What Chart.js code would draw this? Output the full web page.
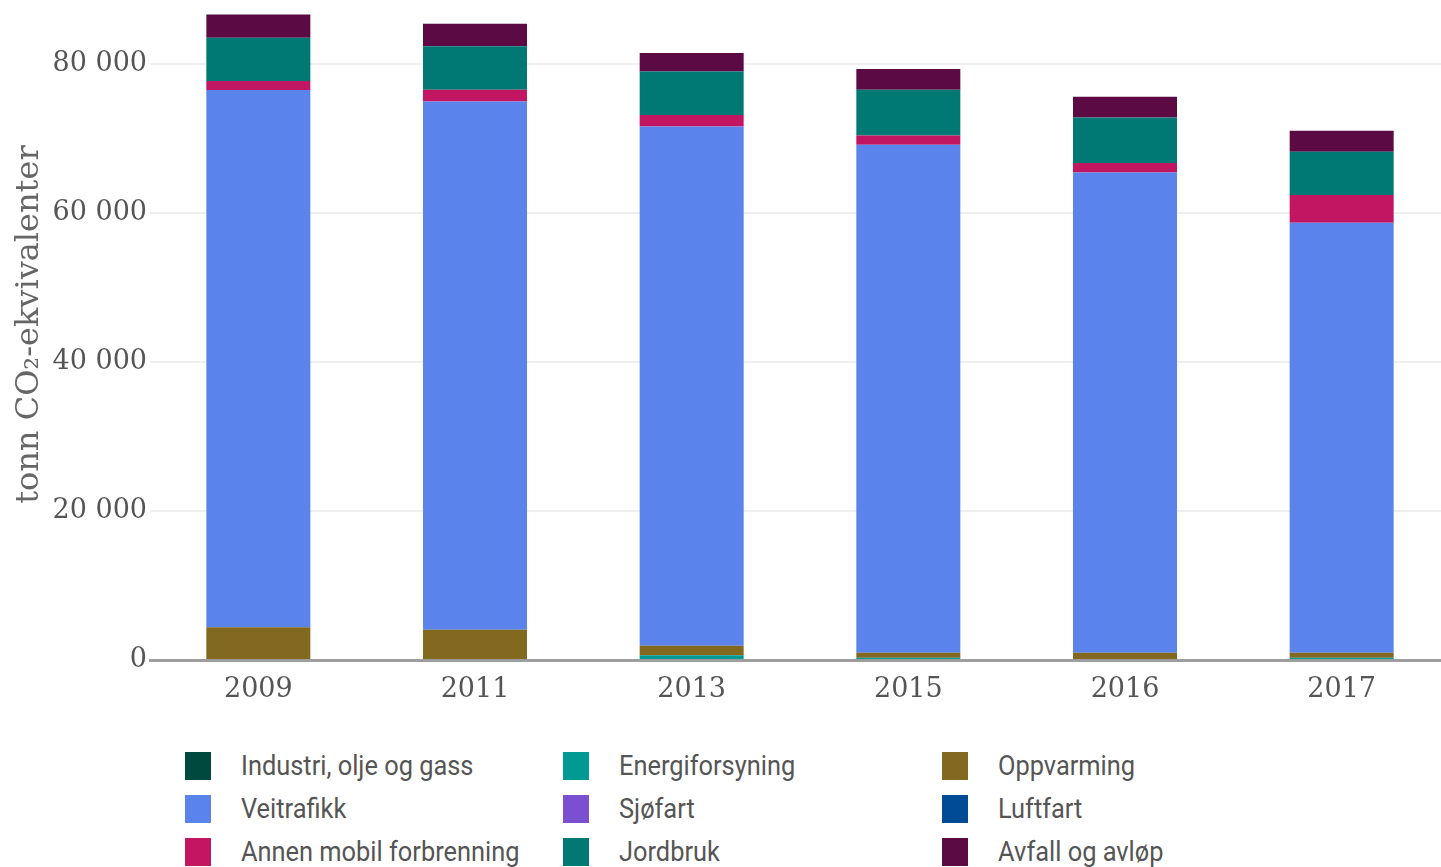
<!DOCTYPE html>
<html>
<head>
<meta charset="utf-8">
<script src="https://cdn.jsdelivr.net/npm/chart.js@4/dist/chart.umd.min.js"></script>
<style>
  html, body { margin: 0; padding: 0; background: #fff; overflow: hidden; width: 1441px; height: 867px; }
  .chartBox { position: absolute; left: 0; top: -30px; width: 1450px; height: 754px; }
  #legend { position: absolute; left: 185px; top: 752px; display: grid;
            grid-template-columns: 378px 379px 300px; row-gap: 15px; }
  .item { display: flex; align-items: center; height: 28px;
          font-family: Roboto, sans-serif; font-size: 27px; color: #555; white-space: nowrap; }
  .item span.txt { display: inline-block; transform: scaleX(0.94); transform-origin: left center; }
  .sw { width: 26px; height: 28px; margin-right: 30px; flex: none; }
</style>
</head>
<body>
<div class="chartBox"><canvas id="myChart"></canvas></div>
<div id="legend"></div>
<script>
// years on the x axis
const years = ['2009', '2011', '2013', '2015', '2016', '2017'];

// one array per sector, bottom of the stack first (tonn CO2-ekvivalenter)
const industri     = [0, 0, 0, 0, 0, 0];
const energi       = [0, 0, 650, 300, 80, 300];
const oppvarming   = [4390, 4070, 1270, 680, 900, 680];
const veitrafikk   = [72100, 70870, 69670, 68150, 64430, 57680];
const sjofart      = [0, 0, 0, 0, 0, 0];
const luftfart     = [0, 0, 0, 0, 0, 0];
const annenMobil   = [1200, 1570, 1520, 1250, 1260, 3720];
const jordbruk     = [5800, 5820, 5860, 6130, 6120, 5810];
const avfall       = [3100, 3040, 2460, 2780, 2780, 2820];

const sectorNames = ['Industri, olje og gass', 'Energiforsyning', 'Oppvarming',
  'Veitrafikk', 'Sjøfart', 'Luftfart', 'Annen mobil forbrenning', 'Jordbruk', 'Avfall og avløp'];
const sectorColors = ['#00493f', '#009a93', '#83691f', '#5a84ec', '#7a4fd0', '#004b96',
  '#c21562', '#007874', '#5c0a43'];
const sectorValues = [industri, energi, oppvarming, veitrafikk, sjofart, luftfart,
  annenMobil, jordbruk, avfall];

// y ticks
const yMax = 90000;
const yTicks = [0, 20000, 40000, 60000, 80000];

const fmt = (v) => String(v).replace(/\B(?=(\d{3})+(?!\d))/g, ' ');

const ctx = document.getElementById('myChart').getContext('2d');
const chart = new Chart(ctx, {
  type: 'bar',
  data: {
    labels: years,
    datasets: sectorNames.map((name, i) => ({
      label: name,
      data: sectorValues[i],
      backgroundColor: sectorColors[i],
      borderWidth: 0,
      barPercentage: 0.48,
      categoryPercentage: 1
    }))
  },
  options: {
    responsive: true,
    maintainAspectRatio: false,
    animation: false,
    layout: { padding: 0 },
    plugins: {
      legend: { display: false },
      tooltip: { enabled: false }
    },
    scales: {
      x: {
        stacked: true,
        grid: { display: false },
        border: { display: true, color: '#9e9e9e', width: 3, z: 1 },
        ticks: {
          color: '#555',
          padding: 6,
          font: { family: 'DejaVu Serif', size: 27 }
        },
        afterFit: (scale) => { scale.height = 64; }
      },
      y: {
        stacked: true,
        min: 0,
        max: yMax,
        border: { display: false },
        afterBuildTicks: (scale) => { scale.ticks = yTicks.map((v) => ({ value: v })); },
        grid: {
          drawTicks: false,
          color: (c) => (c.tick.value === 0 ? 'rgba(0,0,0,0)' : '#efefef'),
          lineWidth: 2
        },
        ticks: {
          padding: 3,
          color: '#555',
          font: { family: 'DejaVu Serif', size: 27 },
          callback: (v) => fmt(v)
        },
        title: {
          display: true,
          text: 'tonn CO₂-ekvivalenter',
          color: '#666',
          padding: { top: 10, bottom: 0 },
          font: { family: 'DejaVu Serif', size: 32 }
        },
        afterFit: (scale) => { scale.width = 150; }
      }
    }
  }
});

// legend, three columns, filled row by row
const legendBox = document.getElementById('legend');
chart.data.datasets.forEach((ds) => {
  const item = document.createElement('div');
  item.className = 'item';
  const sw = document.createElement('span');
  sw.className = 'sw';
  sw.style.background = ds.backgroundColor;
  const txt = document.createElement('span');
  txt.className = 'txt';
  txt.textContent = ds.label;
  item.appendChild(sw);
  item.appendChild(txt);
  legendBox.appendChild(item);
});
</script>
</body>
</html>
